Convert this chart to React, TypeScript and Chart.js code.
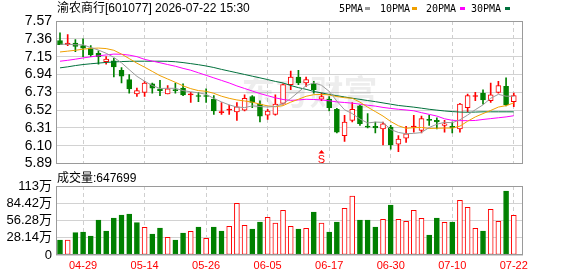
import React, { useEffect, useRef } from "react";
import { Chart, registerables } from "chart.js";

Chart.register(...registerables);

// ---------- data ----------
const title = "渝农商行[601077] 2026-07-22 15:30";
const volumeLabel = "成交量:647699";
const watermark = "东方财富";

const dates = [
  "04-24", "04-27", "04-28", "04-29", "04-30", "05-06", "05-07", "05-08", "05-11", "05-12",
  "05-13", "05-14", "05-15", "05-18", "05-19", "05-20", "05-21", "05-22", "05-25", "05-26",
  "05-27", "05-28", "05-29", "06-01", "06-02", "06-03", "06-04", "06-05", "06-08", "06-09",
  "06-10", "06-11", "06-12", "06-15", "06-16", "06-17", "06-18", "06-22", "06-23", "06-24",
  "06-25", "06-26", "06-29", "06-30", "07-01", "07-02", "07-03", "07-06", "07-07", "07-08",
  "07-09", "07-10", "07-13", "07-14", "07-15", "07-16", "07-17", "07-20", "07-21", "07-22",
];
const dateTickIndex = [3, 11, 19, 27, 35, 43, 51, 59];

const opens = [
  7.34, 7.29, 7.31, 7.28, 7.25, 7.19, 7.09, 7.10, 6.99, 6.88,
  6.71, 6.73, 6.83, 6.77, 6.71, 6.76, 6.78, 6.70, 6.69, 6.69,
  6.65, 6.49, 6.52, 6.50, 6.52, 6.68, 6.59, 6.46, 6.47, 6.60,
  6.82, 6.91, 6.84, 6.83, 6.65, 6.65, 6.53, 6.22, 6.40, 6.57,
  6.33, 6.33, 6.30, 6.32, 6.12, 6.19, 6.32, 6.28, 6.41, 6.40,
  6.34, 6.33, 6.30, 6.55, 6.68, 6.72, 6.63, 6.73, 6.80, 6.62,
];
const highs = [
  7.43, 7.41, 7.35, 7.36, 7.28, 7.22, 7.15, 7.13, 7.02, 6.94,
  6.78, 6.86, 6.84, 6.87, 6.81, 6.84, 6.83, 6.73, 6.73, 6.77,
  6.69, 6.61, 6.58, 6.61, 6.70, 6.69, 6.63, 6.53, 6.70, 6.83,
  6.98, 6.99, 6.91, 6.86, 6.72, 6.68, 6.54, 6.46, 6.61, 6.58,
  6.48, 6.38, 6.38, 6.34, 6.22, 6.33, 6.46, 6.45, 6.46, 6.43,
  6.40, 6.38, 6.60, 6.71, 6.73, 6.76, 6.84, 6.86, 6.90, 6.72,
];
const lows = [
  7.29, 7.28, 7.21, 7.15, 7.15, 7.06, 7.06, 6.91, 6.84, 6.72,
  6.68, 6.68, 6.72, 6.69, 6.71, 6.72, 6.69, 6.61, 6.62, 6.61,
  6.47, 6.47, 6.47, 6.40, 6.51, 6.55, 6.38, 6.41, 6.46, 6.59,
  6.76, 6.82, 6.80, 6.72, 6.63, 6.51, 6.25, 6.15, 6.38, 6.34,
  6.31, 6.25, 6.11, 6.06, 6.03, 6.14, 6.26, 6.25, 6.34, 6.30,
  6.26, 6.25, 6.26, 6.50, 6.63, 6.59, 6.61, 6.72, 6.57, 6.56,
];
const closes = [
  7.29, 7.31, 7.27, 7.25, 7.17, 7.15, 7.12, 7.03, 6.92, 6.77,
  6.75, 6.84, 6.78, 6.75, 6.77, 6.75, 6.70, 6.71, 6.68, 6.68,
  6.51, 6.50, 6.53, 6.56, 6.66, 6.61, 6.45, 6.51, 6.59, 6.82,
  6.91, 6.84, 6.88, 6.76, 6.68, 6.55, 6.26, 6.38, 6.53, 6.36,
  6.32, 6.31, 6.36, 6.11, 6.18, 6.24, 6.33, 6.42, 6.40, 6.38,
  6.36, 6.31, 6.59, 6.69, 6.69, 6.64, 6.70, 6.81, 6.58, 6.69,
];

const ma5 = [
  7.296, 7.296, 7.29, 7.29, 7.257, 7.228, 7.19, 7.142, 7.077, 6.997,
  6.918, 6.861, 6.81, 6.775, 6.777, 6.777, 6.75, 6.736, 6.724, 6.706,
  6.658, 6.617, 6.582, 6.556, 6.55, 6.57, 6.562, 6.557, 6.563, 6.596,
  6.657, 6.733, 6.808, 6.841, 6.813, 6.741, 6.626, 6.524, 6.479, 6.415,
  6.369, 6.379, 6.376, 6.292, 6.257, 6.242, 6.246, 6.256, 6.315, 6.354,
  6.376, 6.372, 6.406, 6.462, 6.525, 6.582, 6.66, 6.706, 6.684, 6.684,
];
const ma10 = [
  7.205, 7.215, 7.225, 7.238, 7.247, 7.251, 7.245, 7.225, 7.18, 7.127,
  7.073, 7.026, 6.976, 6.926, 6.887, 6.848, 6.806, 6.773, 6.75, 6.742,
  6.718, 6.684, 6.659, 6.64, 6.628, 6.614, 6.59, 6.57, 6.56, 6.573,
  6.614, 6.648, 6.683, 6.702, 6.705, 6.699, 6.68, 6.666, 6.66, 6.614,
  6.555, 6.503, 6.45, 6.386, 6.336, 6.306, 6.313, 6.316, 6.304, 6.306,
  6.309, 6.309, 6.331, 6.389, 6.44, 6.479, 6.516, 6.556, 6.573, 6.605,
];
const ma20 = [
  7.096, 7.107, 7.12, 7.135, 7.148, 7.16, 7.17, 7.18, 7.178, 7.168,
  7.15, 7.118, 7.098, 7.078, 7.057, 7.037, 7.012, 6.99, 6.96, 6.93,
  6.9, 6.87, 6.84, 6.805, 6.775, 6.745, 6.715, 6.69, 6.665, 6.645,
  6.635, 6.64, 6.648, 6.645, 6.64, 6.63, 6.617, 6.61, 6.602, 6.59,
  6.578, 6.567, 6.552, 6.54, 6.53, 6.522, 6.512, 6.49, 6.47, 6.45,
  6.418, 6.4, 6.396, 6.396, 6.398, 6.41, 6.42, 6.43, 6.44, 6.454,
];
const ma30 = [
  7.018, 7.03, 7.045, 7.057, 7.066, 7.074, 7.082, 7.088, 7.092, 7.095,
  7.096, 7.096, 7.096, 7.096, 7.095, 7.09, 7.08, 7.068, 7.055, 7.04,
  7.022, 7.0, 6.98, 6.96, 6.94, 6.92, 6.9, 6.88, 6.858, 6.84,
  6.81, 6.785, 6.765, 6.74, 6.723, 6.705, 6.69, 6.675, 6.66, 6.647,
  6.633, 6.62, 6.605, 6.59, 6.575, 6.565, 6.555, 6.543, 6.53, 6.52,
  6.51, 6.503, 6.497, 6.495, 6.497, 6.5, 6.5, 6.5, 6.5, 6.5,
];

// volume in 万 (10k shares)
const volumes = [
  24.5, 24.5, 36.4, 37.5, 31.0, 57.1, 39.1, 60.3, 65.2, 66.9,
  52.7, 45.1, 34.3, 44.0, 28.8, 24.5, 35.9, 38.6, 45.7, 27.2,
  45.7, 39.1, 46.8, 84.3, 48.4, 42.4, 53.8, 61.5, 52.2, 72.9,
  46.8, 42.4, 43.5, 70.1, 52.2, 37.5, 53.8, 76.1, 96.2, 57.1,
  57.1, 45.7, 58.2, 81.6, 58.2, 54.9, 72.9, 59.8, 32.6, 60.3,
  53.3, 53.8, 89.2, 77.8, 43.5, 39.1, 74.5, 54.9, 104.4, 64.77,
];
const volumeUp = [
  0, 1, 0, 0, 0, 0, 0, 0, 0, 0,
  0, 1, 0, 0, 1, 0, 0, 1, 0, 1,
  0, 0, 1, 1, 1, 0, 0, 1, 1, 1,
  1, 0, 1, 0, 1, 0, 0, 1, 1, 0,
  0, 0, 1, 0, 1, 1, 1, 1, 0, 0,
  1, 0, 1, 1, 1, 0, 1, 1, 0, 1,
];

const priceTicks = [5.89, 6.10, 6.31, 6.52, 6.73, 6.94, 7.15, 7.36, 7.57];
const volumeTicks = [0, 28.14, 56.28, 84.42, 112.56];
const volumeTickLabels = ["0", "28.14万", "56.28万", "84.42万", "113万"];

const maNames = ["5PMA", "10PMA", "20PMA", "30PMA"];
const markerIndex = 34;
const markerText = "S";

// ---------- styles ----------
const RED = "#ff0000";
const GREEN = "#008000";
const MA_COLORS = ["#9a9a9a", "#f0a000", "#ff00ff", "#00703c"];
const X_MIN = -0.52;
const X_MAX = 60.2;
const SANS = "'Liberation Sans', Arial, 'Noto Sans CJK SC', sans-serif";

const framePlugin = {
  id: "frame",
  afterDraw(chart: any) {
    const { ctx, chartArea: a } = chart;
    ctx.save();
    ctx.strokeStyle = "#9a9a9a";
    ctx.lineWidth = 1;
    ctx.strokeRect(
      Math.round(a.left) + 0.5,
      Math.round(a.top) + 0.5,
      Math.round(a.right - a.left) - 1,
      Math.round(a.bottom - a.top) - 1
    );
    ctx.restore();
  },
};

const decorPlugin = {
  id: "decor",
  beforeDatasetsDraw(chart: any) {
    const { ctx, chartArea: a } = chart;
    ctx.save();
    ctx.fillStyle = "rgba(0,0,0,0.07)";
    ctx.font = "bold 34px 'Noto Sans CJK SC', sans-serif";
    ctx.textAlign = "center";
    ctx.textBaseline = "middle";
    ctx.fillText(watermark, (a.left + a.right) / 2 + 20, a.top + 71);
    ctx.restore();
  },
  afterDatasetsDraw(chart: any) {
    const { ctx, chartArea: a } = chart;
    const x = Math.round(chart.scales.x.getPixelForValue(markerIndex)) + 0.5;
    ctx.save();
    ctx.fillStyle = RED;
    ctx.beginPath();
    ctx.moveTo(x, a.bottom - 13.5);
    ctx.lineTo(x - 3, a.bottom - 10);
    ctx.lineTo(x + 3, a.bottom - 10);
    ctx.closePath();
    ctx.fill();
    ctx.font = "11px " + SANS;
    ctx.textAlign = "center";
    ctx.textBaseline = "alphabetic";
    ctx.fillText(markerText, x, a.bottom - 1);
    ctx.restore();
  },
};

const xAxisBase = (showLabels: boolean, height: number) => ({
  type: "linear",
  min: X_MIN,
  max: X_MAX,
  offset: false,
  bounds: "data",
  afterBuildTicks: (s: any) => {
    s.ticks = dateTickIndex.map((v) => ({ value: v }));
  },
  ticks: {
    display: showLabels,
    color: RED,
    padding: 4,
    autoSkip: false,
    maxRotation: 0,
    minRotation: 0,
    font: { family: SANS, size: 11 },
    callback: (v: any) => dates[Number(v)] ?? "",
  },
  grid: { color: "#cfcfcf", drawTicks: false, offset: false },
  border: { display: false, dash: [4, 3] },
  afterFit: (s: any) => {
    s.height = height;
    s.paddingLeft = 0;
    s.paddingRight = 0;
  },
});

export default function App() {
  const priceRef = useRef<HTMLCanvasElement>(null);
  const volRef = useRef<HTMLCanvasElement>(null);

  useEffect(() => {
    const isUp = (i: number) => closes[i] > opens[i];
    const candleColor = (i: number) => (isUp(i) ? RED : GREEN);

    const maSets = [ma5, ma10, ma20, ma30].map((arr, k) => ({
      type: "line" as const,
      label: maNames[k],
      data: arr.map((v, i) => ({ x: i, y: v })),
      borderColor: MA_COLORS[k],
      borderWidth: 1,
      pointRadius: 0,
      fill: false,
      tension: 0,
      order: 0,
    }));

    const priceChart = new Chart(priceRef.current as HTMLCanvasElement, {
      type: "bar",
      data: {
        datasets: [
          ...maSets,
          {
            type: "bar",
            label: "body",
            data: opens.map((o, i) => ({
              x: i,
              y: [Math.min(o, closes[i]), Math.max(o, closes[i])],
            })),
            backgroundColor: opens.map((o, i) =>
              isUp(i) ? (Math.abs(closes[i] - o) < 0.02 ? RED : "#ffffff") : GREEN
            ),
            borderColor: opens.map((_, i) => candleColor(i)),
            borderWidth: 1,
            borderSkipped: false,
            barThickness: 5,
            minBarLength: 1,
            grouped: false,
            order: 1,
          } as any,
          {
            type: "bar",
            label: "wick",
            data: lows.map((l, i) => ({ x: i, y: [l, highs[i]] })),
            backgroundColor: opens.map((_, i) => candleColor(i)),
            borderWidth: 0,
            barThickness: 1,
            grouped: false,
            order: 2,
          } as any,
        ],
      },
      options: {
        animation: false,
        responsive: false,
        devicePixelRatio: 1,
        events: [],
        layout: { autoPadding: false, padding: { top: 21, right: 55, bottom: 11, left: 0 } },
        plugins: { legend: { display: false }, tooltip: { enabled: false } },
        scales: {
          x: xAxisBase(false, 0),
          y: {
            type: "linear",
            min: priceTicks[0],
            max: priceTicks[priceTicks.length - 1],
            afterBuildTicks: (s: any) => {
              s.ticks = priceTicks.map((v) => ({ value: v }));
            },
            ticks: {
              color: "#000",
              padding: 4,
              autoSkip: false,
              font: { family: SANS, size: 14 },
              callback: (v: any) => Number(v).toFixed(2),
            },
            grid: { color: "#d2d2d2", drawTicks: false },
            border: { display: false },
            afterFit: (s: any) => {
              s.width = 56;
            },
          },
        },
      } as any,
      plugins: [decorPlugin, framePlugin],
    });

    const volChart = new Chart(volRef.current as HTMLCanvasElement, {
      type: "bar",
      data: {
        datasets: [
          {
            label: "volume",
            data: volumes.map((v, i) => ({ x: i, y: v })),
            backgroundColor: volumeUp.map((u) => (u ? "#ffffff" : GREEN)),
            borderColor: volumeUp.map((u) => (u ? RED : GREEN)),
            borderWidth: 1,
            borderSkipped: false,
            barThickness: 5,
            grouped: false,
          } as any,
        ],
      },
      options: {
        animation: false,
        responsive: false,
        devicePixelRatio: 1,
        events: [],
        layout: { autoPadding: false, padding: { top: 16, right: 55, bottom: 0, left: 0 } },
        plugins: { legend: { display: false }, tooltip: { enabled: false } },
        scales: {
          x: xAxisBase(true, 21),
          y: {
            type: "linear",
            min: 0,
            max: volumeTicks[volumeTicks.length - 1],
            afterBuildTicks: (s: any) => {
              s.ticks = volumeTicks.map((v) => ({ value: v }));
            },
            ticks: {
              color: "#000",
              padding: 4,
              autoSkip: false,
              font: { family: SANS, size: 13 },
              callback: (_v: any, i: number) => volumeTickLabels[i],
            },
            grid: { color: "#d2d2d2", drawTicks: false },
            border: { display: false },
            afterFit: (s: any) => {
              s.width = 56;
            },
          },
        },
      } as any,
      plugins: [framePlugin],
    });

    return () => {
      priceChart.destroy();
      volChart.destroy();
    };
  }, []);

  const legendTextX = [339, 380, 426, 471];
  const legendBoxX = [365, 412, 460, 505];

  return (
    <div
      style={{
        position: "absolute",
        left: 0,
        top: 0,
        width: 578,
        height: 276,
        background: "#ffffff",
        overflow: "hidden",
      }}
    >
      <canvas
        ref={priceRef}
        width={578}
        height={176}
        style={{ position: "absolute", left: 0, top: 0, width: 578, height: 176, display: "block" }}
      />
      <canvas
        ref={volRef}
        width={578}
        height={106}
        style={{ position: "absolute", left: 0, top: 170, width: 578, height: 106, display: "block" }}
      />
      <div
        style={{
          position: "absolute",
          left: 57,
          top: 1,
          font: "12px " + SANS,
          lineHeight: "14px",
          color: "#000",
          whiteSpace: "pre",
        }}
      >
        {title}
      </div>
      {maNames.map((n, k) => (
        <React.Fragment key={n}>
          <span
            style={{
              position: "absolute",
              left: legendTextX[k],
              top: 3,
              font: "10px 'DejaVu Sans Mono', monospace",
              lineHeight: "12px",
              color: "#000",
              whiteSpace: "pre",
            }}
          >
            {n}
          </span>
          <span
            style={{
              position: "absolute",
              left: legendBoxX[k],
              top: 7,
              width: 5,
              height: 3,
              background: MA_COLORS[k],
            }}
          />
        </React.Fragment>
      ))}
      <div
        style={{
          position: "absolute",
          left: 57,
          top: 171,
          font: "12px " + SANS,
          lineHeight: "14px",
          color: "#000",
          whiteSpace: "pre",
        }}
      >
        {volumeLabel}
      </div>
    </div>
  );
}
